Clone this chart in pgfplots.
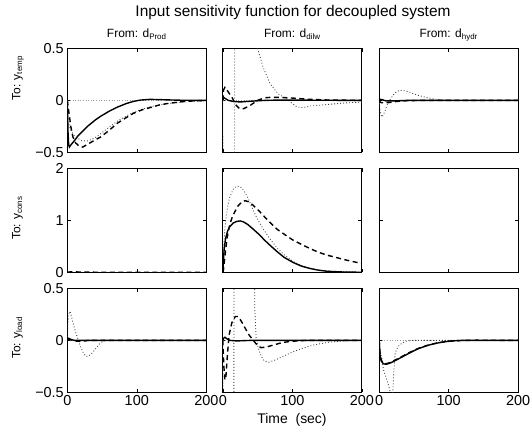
\documentclass[border=0pt]{standalone}
\usepackage{fontspec}
\setmainfont{Liberation Sans}
\usepackage{pgfplots}
\pgfplotsset{compat=1.18}
\pgfplotsset{
  panel/.style={
    scale only axis, width=139bp, height=103.8bp,
    xmin=0, xmax=200, xtick={0,100,200}, xticklabels={},
    axis line style={line width=0.9bp},
    every tick/.style={black, line width=0.6bp},
    major tick length=3.5bp,
    tick label style={font=\fontsize{14.5}{16}\selectfont},
    title style={font=\fontsize{12}{14}\selectfont, at={(axis description cs:0.5,1)}, anchor=base, yshift=5bp},
    ylabel style={font=\fontsize{12}{14}\selectfont, anchor=base},
    clip=true,
  },
  rA/.style={ymin=-0.5, ymax=0.5, ytick={-0.5,0,0.5}},
  rB/.style={ymin=0, ymax=2, ytick={0,1,2}},
  lA/.style={yticklabels={{\char"2212 0.5},0,0.5}},
  lB/.style={yticklabels={0,1,2}},
  nol/.style={yticklabels={}},
  bot/.style={xticklabels={0,100,200}},
  sol/.style={black, line width=1.4bp},
  das/.style={black, line width=1.4bp, dash pattern=on 5bp off 3.5bp},
  dot/.style={black!75, line width=0.85bp, dash pattern=on 0.9bp off 2.1bp},
  zer/.style={black!40, line width=0.6bp, dash pattern=on 0.6bp off 2bp},
}
\begin{document}
\begin{tikzpicture}
\path[use as bounding box] (0,0) rectangle (530bp,439bp);
\node[font=\fontsize{15.5}{18}\selectfont, anchor=base] at (293bp,422bp) {Input sensitivity function for decoupled system};
\node[font=\fontsize{14}{16}\selectfont, anchor=base] at (292bp,16bp) {Time\ \ (sec)};

% ---------- Row 1 ----------
\begin{axis}[panel, rA, lA, at={(67.3bp,286.7bp)}, anchor=south west,
  title={From: d\textsubscript{Prod}}, ylabel={To: y\textsubscript{temp}},
  ylabel style={at={(axis description cs:-0.338,0.714)}}]
\addplot[zer] coordinates {(0,0)(200,0)};
\addplot[dot] coordinates {(0,0)(1,-0.15)(3,-0.25)(6,-0.3)(10,-0.34)(16,-0.37)(22,-0.39)(30,-0.39)(40,-0.36)(50,-0.31)(60,-0.26)(72,-0.2)(85,-0.15)(95,-0.115)(108,-0.085)(120,-0.06)(140,-0.035)(160,-0.02)(180,-0.01)(200,-0.004)};
\addplot[das] coordinates {(0,0)(2,-0.1)(5,-0.25)(8,-0.35)(12,-0.41)(17,-0.44)(22,-0.45)(30,-0.42)(40,-0.38)(47.5,-0.355)(60,-0.29)(72,-0.22)(85,-0.165)(95,-0.125)(108,-0.09)(119,-0.07)(132,-0.045)(144,-0.03)(156,-0.02)(168,-0.01)(185,-0.004)(200,0)};
\addplot[sol] coordinates {(0,0)(1,-0.3)(2,-0.43)(3,-0.45)(5,-0.43)(10,-0.39)(15,-0.345)(23,-0.29)(30,-0.245)(40,-0.19)(47.5,-0.155)(60,-0.105)(72,-0.065)(85,-0.03)(95,-0.01)(105,0.003)(119,0.01)(140,0.006)(160,0.002)(200,0)};
\end{axis}

\begin{axis}[panel, rA, nol, at={(222.8bp,286.7bp)}, anchor=south west,
  title={From: d\textsubscript{dilw}}]
\addplot[zer] coordinates {(0,0)(200,0)};
\addplot[dot] coordinates {(0,0)(0.3,-3)(16.5,-3)(17.5,3)(45,3)(50,0.5)(58,0.32)(68,0.16)(80,0.06)(92,0.015)(100,-0.03)(106,-0.06)(115,-0.07)(125,-0.055)(150,-0.04)(175,-0.025)(200,-0.016)};
\addplot[das] coordinates {(0,0)(1,0.1)(3,0.125)(6,0.1)(10,0.06)(14,0.02)(18,-0.04)(24,-0.08)(30,-0.08)(39,-0.05)(50,0)(60,0.025)(70,0.03)(85,0.028)(106,0.02)(125,0.01)(150,0.004)(200,0)};
\addplot[sol] coordinates {(0,0)(1,0.03)(3,0.02)(8,0)(15,-0.01)(25,-0.015)(40,-0.008)(60,0)(80,0.003)(200,0)};
\end{axis}

\begin{axis}[panel, rA, nol, at={(379.2bp,286.7bp)}, anchor=south west,
  title={From: d\textsubscript{hydr}}]
\addplot[zer] coordinates {(0,0)(200,0)};
\addplot[dot] coordinates {(0,0)(1,-0.08)(2.5,-0.14)(4,-0.16)(6,-0.14)(8.5,-0.1)(11,-0.05)(14,-0.01)(16,0.01)(20,0.05)(25,0.085)(30,0.097)(35,0.095)(42,0.082)(49,0.065)(58,0.045)(68,0.028)(80,0.012)(95,0.004)(120,0)(200,0)};
\addplot[das] coordinates {(0,0)(2,-0.02)(8,-0.025)(15,-0.02)(25,-0.01)(40,-0.003)(60,0)(200,0)};
\addplot[sol] coordinates {(0,0)(2,0.01)(5,0.005)(10,-0.005)(20,-0.005)(40,0)(200,0)};
\end{axis}

% ---------- Row 2 ----------
\begin{axis}[panel, rB, lB, at={(67.3bp,166.7bp)}, anchor=south west,
  ylabel={To: y\textsubscript{cons}},
  ylabel style={at={(axis description cs:-0.338,0.523)}}]
\addplot[dot] coordinates {(0,0)(200,0)};
\addplot[das] coordinates {(0,0)(5,0.01)(20,0.005)(50,0)(200,0)};
\addplot[sol] coordinates {(0,0)(200,0)};
\end{axis}

\begin{axis}[panel, rB, nol, at={(222.8bp,166.7bp)}, anchor=south west]
\addplot[dot] coordinates {(0,0)(1,0.4)(3,0.85)(6,1.2)(10,1.45)(15,1.6)(20,1.66)(25,1.65)(30,1.58)(36,1.44)(43,1.22)(50,1.02)(58,0.84)(68,0.64)(78,0.47)(88,0.34)(100,0.22)(113,0.13)(125,0.08)(140,0.04)(160,0.015)(200,0)};
\addplot[das] coordinates {(0,0)(1,0.05)(3,0.3)(6,0.65)(10,0.92)(14,1.08)(17,1.16)(22,1.28)(27,1.35)(32,1.38)(37,1.36)(43,1.3)(53,1.17)(60,1.07)(68,0.96)(78,0.83)(92,0.7)(101,0.62)(113,0.54)(125,0.46)(137,0.39)(150,0.33)(162,0.29)(173,0.25)(186,0.21)(200,0.17)};
\addplot[sol] coordinates {(0,0)(1,0.25)(2,0.45)(4,0.65)(7,0.8)(10,0.88)(15,0.95)(20,0.98)(25,0.99)(30,0.97)(36,0.92)(43,0.84)(53,0.72)(60,0.62)(68,0.52)(78,0.4)(88,0.29)(101,0.19)(113,0.12)(125,0.075)(138,0.04)(150,0.02)(170,0.007)(200,0)};
\end{axis}

\begin{axis}[panel, rB, nol, at={(379.2bp,166.7bp)}, anchor=south west]
\addplot[dot] coordinates {(0,0)(200,0)};
\addplot[das] coordinates {(0,0)(200,0)};
\addplot[sol] coordinates {(0,0)(200,0)};
\end{axis}

% ---------- Row 3 ----------
\begin{axis}[panel, rA, lA, bot, at={(67.3bp,46.7bp)}, anchor=south west,
  ylabel={To: y\textsubscript{load}},
  ylabel style={at={(axis description cs:-0.338,0.523)}}]
\addplot[zer] coordinates {(0,0)(200,0)};
\addplot[dot] coordinates {(0,0)(1,0.15)(2.5,0.26)(4,0.28)(6,0.23)(9,0.15)(12,0.08)(15,0.02)(19,-0.06)(23,-0.12)(27,-0.155)(31,-0.15)(36,-0.12)(42,-0.07)(47,-0.03)(52,-0.005)(60,0.003)(80,0)(200,0)};
\addplot[das] coordinates {(0,0)(3,0.01)(10,-0.005)(20,-0.01)(30,0)(200,0)};
\addplot[sol] coordinates {(0,0)(2,0.02)(5,0.01)(10,0)(200,0)};
\end{axis}

\begin{axis}[panel, rA, nol, bot, at={(222.8bp,46.7bp)}, anchor=south west]
\addplot[zer] coordinates {(0,0)(200,0)};
\addplot[dot] coordinates {(0,0)(0.3,-3)(15.5,-3)(16.5,3)(44,3)(46,0.3)(48,0.02)(51,-0.07)(55,-0.15)(60,-0.2)(66,-0.21)(75,-0.19)(88,-0.15)(101,-0.11)(115,-0.075)(130,-0.045)(150,-0.02)(170,-0.006)(190,0)(200,0)};
\addplot[das] coordinates {(0,0)(1.5,-0.25)(3,-0.38)(4.5,-0.35)(6.5,-0.15)(9,0.05)(13,0.17)(18,0.23)(22,0.23)(27,0.18)(32,0.12)(38,0.05)(44,0)(50,-0.05)(55,-0.07)(62,-0.065)(70,-0.05)(86,-0.02)(100,-0.008)(120,0)(200,0)};
\addplot[sol] coordinates {(0,0)(1,0.02)(3,0.03)(6,0.015)(10,0)(20,-0.005)(40,0)(200,0)};
\end{axis}

\begin{axis}[panel, rA, nol, bot, at={(379.2bp,46.7bp)}, anchor=south west]
\addplot[zer] coordinates {(0,0)(200,0)};
\addplot[dot] coordinates {(0,0)(1,-0.05)(2,-0.12)(4,-0.18)(6,-0.28)(10,-0.36)(13,-0.42)(16,-0.5)(18,-0.55)(19.5,-0.5)(21,-0.3)(23,-0.12)(27,-0.06)(33,-0.025)(40,-0.005)(50,0)(200,0)};
\addplot[das] coordinates {(0,0)(0.7,-0.09)(1.5,-0.15)(3,-0.19)(6,-0.22)(10,-0.225)(15,-0.215)(20,-0.2)(30,-0.165)(44,-0.115)(56,-0.078)(69,-0.048)(80,-0.03)(92,-0.015)(105,-0.005)(120,0)(140,0.002)(200,0)};
\addplot[sol] coordinates {(0,0)(0.7,-0.1)(1.5,-0.16)(3,-0.2)(6,-0.225)(10,-0.23)(15,-0.22)(20,-0.205)(30,-0.17)(44,-0.12)(56,-0.08)(69,-0.05)(80,-0.03)(92,-0.015)(105,-0.005)(120,0)(200,0)};
\end{axis}
\end{tikzpicture}
\end{document}
